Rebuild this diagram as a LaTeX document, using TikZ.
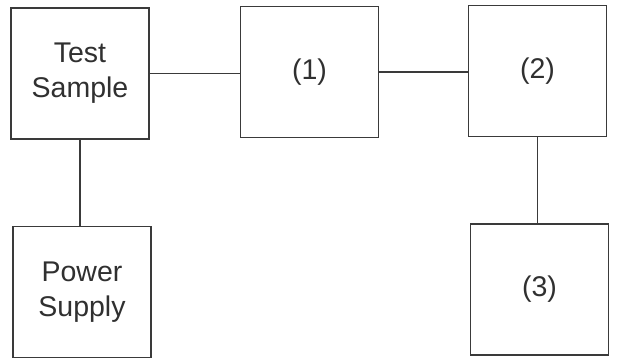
\documentclass[tikz,border=0pt]{standalone}
\usepackage{fontspec}
\setmainfont{Liberation Sans}
\usetikzlibrary{positioning}
\definecolor{ink}{HTML}{3A3A3A}
\definecolor{textgray}{HTML}{303030}
\tikzset{
  blockbox/.style={draw=ink,line width=1.6pt,fill=white,
                   minimum width=138pt,minimum height=131pt,
                   align=center,text=textgray,inner sep=2pt,
                   font=\fontsize{28.5}{35}\selectfont},
  wire/.style={draw=ink,line width=1.1pt}
}
\begin{document}
\begin{tikzpicture}[x=1pt,y=-1pt]
      \useasboundingbox[fill=white] (0,0) rectangle (634,358);

      % top row
      \node[blockbox] (sample) at (80,73.5) {Test\\Sample};
      \node[blockbox] (one) at (309.5,72) {(1)};
      \node[blockbox] (two) at (537.5,71) {(2)};

      % bottom row
      \node[blockbox] (supply) at (82,292) {Power\\Supply};
      \node[blockbox] (three) at (539.5,289.5) {(3)};

      % connections
      \draw[wire] (sample.east) -- (sample.east -| one.west);
      \draw[wire] (one.east) -- (one.east -| two.west);
      \draw[wire] (sample.south) -- (sample.south |- supply.north);
      \draw[wire] (two.south) -- (two.south |- three.north);
    \end{tikzpicture}
\end{document}
